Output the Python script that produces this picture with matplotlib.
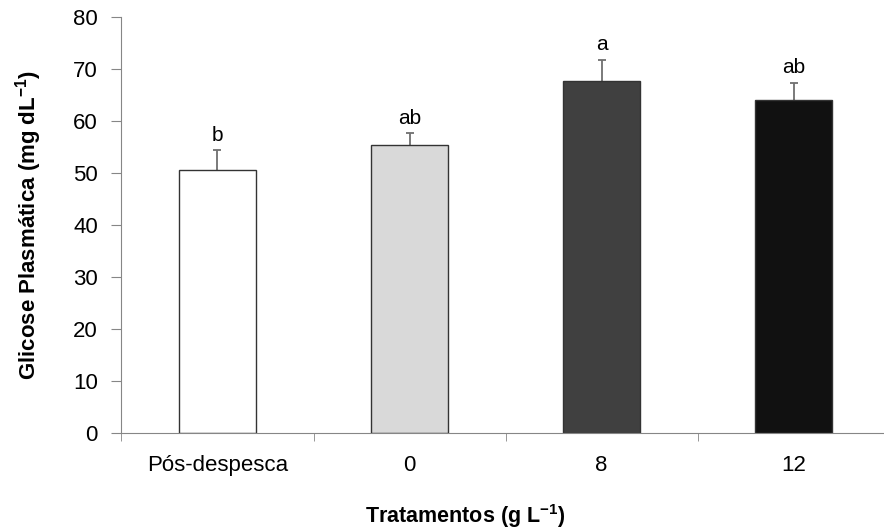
import numpy as np
import matplotlib.pyplot as plt

plt.rcParams['font.family'] = ['Liberation Sans', 'DejaVu Sans']

# plasma glucose per treatment (mean +/- upper error)
tratamentos = ['Pós-despesca', '0', '8', '12']
glicose = [50.5, 55.4, 67.7, 64.0]
erro = [3.9, 2.2, 4.1, 3.4]
letras = ['b', 'ab', 'a', 'ab']
cores = ['#ffffff', '#d9d9d9', '#404040', '#111111']

fig = plt.figure(figsize=(8.84, 5.29), dpi=100)
ax = fig.add_axes([0.1374, 0.1815, 0.869, 0.7864])

x = np.arange(len(tratamentos))
ax.bar(x, glicose, width=0.4, color=cores, edgecolor='#333333', linewidth=1.0, zorder=2)
eb = ax.errorbar(x, glicose, yerr=[np.zeros(len(erro)), erro], fmt='none',
                 ecolor='#707070', elinewidth=1.3, capsize=3, capthick=1.3, zorder=1)
# keep only the upper caps
for cap in eb[1]:
    if np.allclose(cap.get_ydata(), glicose):
        cap.set_visible(False)

for xi, g, e, l in zip(x, glicose, erro, letras):
    ax.annotate(l, (xi, g + e), xytext=(0, 4), textcoords='offset points',
                ha='center', va='bottom', fontsize=15)

ax.set_xlim(-0.5, 3.5)
ax.set_ylim(0, 80)
ax.set_yticks(range(0, 81, 10))
ax.set_xticks(x)
ax.set_xticklabels(tratamentos, fontsize=16)
ax.set_xticks(np.arange(-0.5, 4, 1), minor=True)
ax.tick_params(axis='x', which='major', length=0, pad=16)
ax.tick_params(axis='x', which='minor', length=6, color='#868686', direction='out')
ax.tick_params(axis='y', length=7, color='#868686', labelsize=16, pad=10)

for s in ['top', 'right']:
    ax.spines[s].set_visible(False)
for s in ['left', 'bottom']:
    ax.spines[s].set_color('#868686')

ax.set_ylabel('Glicose Plasmática (mg dL$^{\\mathregular{-1}}$)', fontsize=16,
              fontweight='bold')
ax.yaxis.set_label_coords(-0.101, 0.5)
ax.set_xlabel('Tratamentos (g L$^{\\mathregular{-1}}$)', fontsize=15.5,
              fontweight='bold')
ax.xaxis.set_label_coords(0.447, -0.165)

fig.savefig('out.png', dpi=100)
